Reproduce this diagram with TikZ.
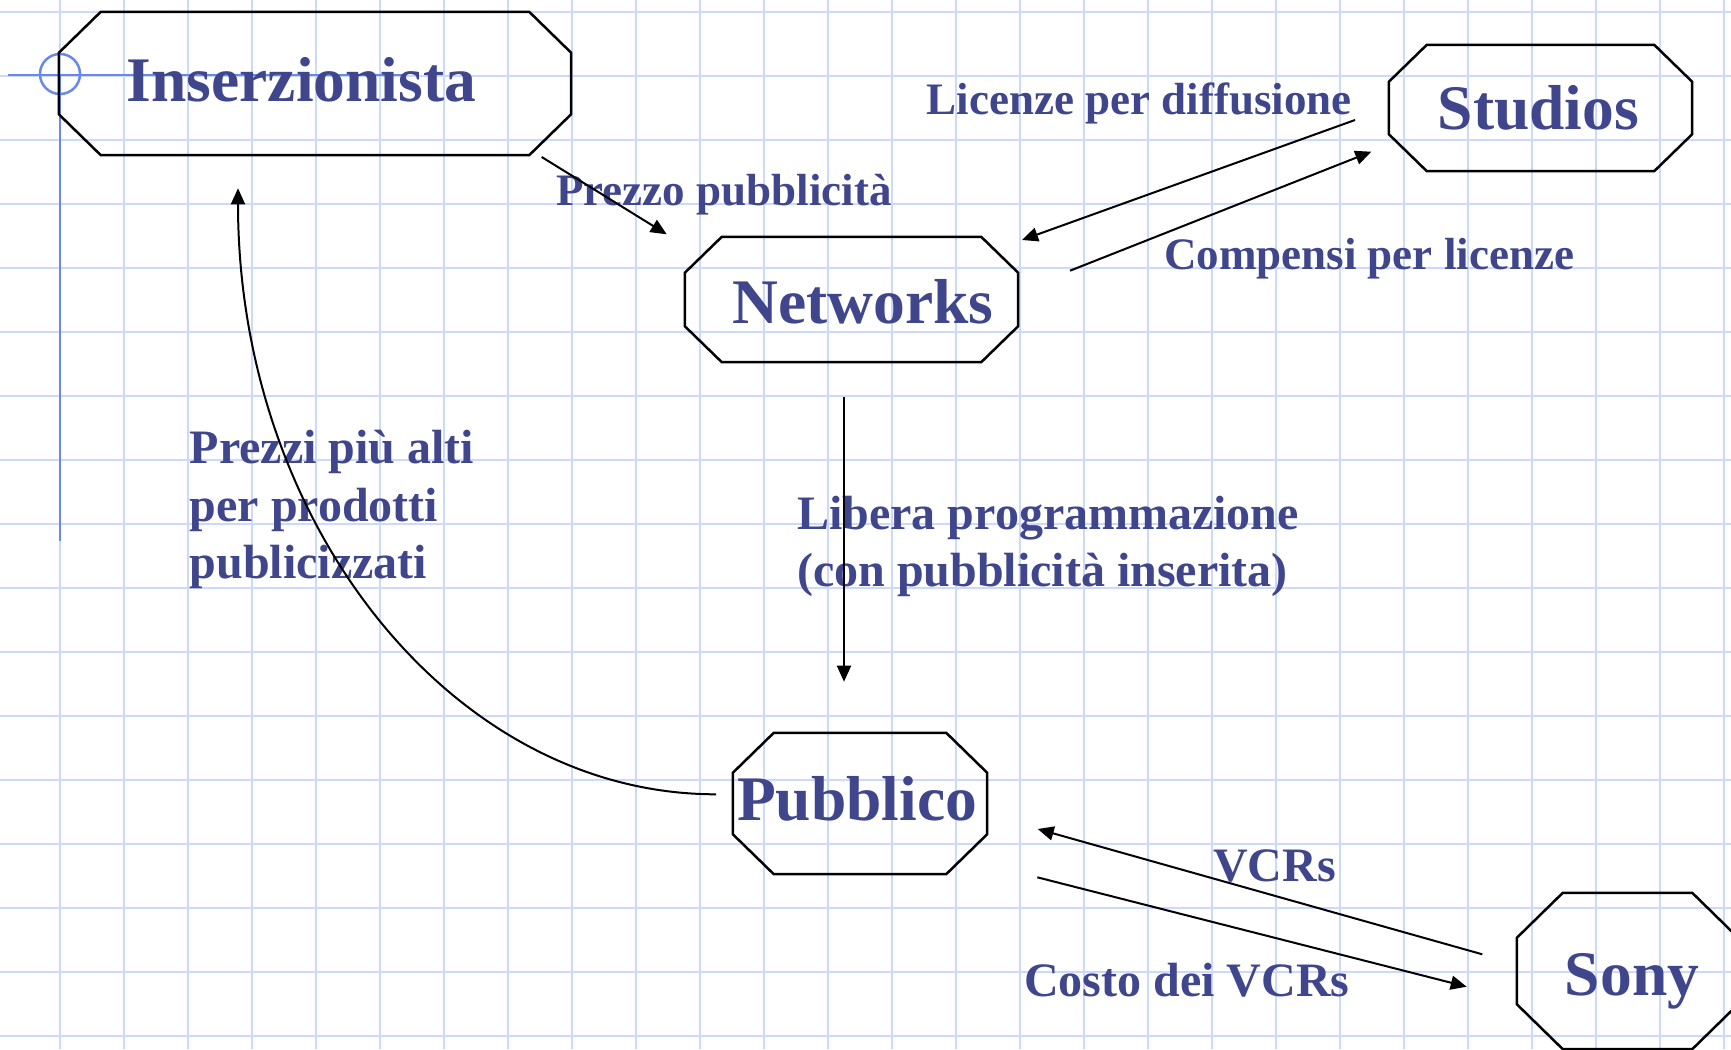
\documentclass[tikz,border=0pt]{standalone}
\usepackage{fontspec}
\setmainfont{Liberation Serif}
\usetikzlibrary{arrows.meta}
\definecolor{txtblue}{RGB}{64,70,140}
\definecolor{gridblue}{RGB}{204,216,252}
\definecolor{decoblue}{RGB}{104,136,240}
\newcommand{\octbox}[3]{%
  \draw[boxline] ([xshift=#2]#1.north west) -- ([xshift=-#2]#1.north east)
    -- ([yshift=-#3]#1.north east) -- ([yshift=#3]#1.south east)
    -- ([xshift=-#2]#1.south east) -- ([xshift=#2]#1.south west)
    -- ([yshift=#3]#1.south west) -- ([yshift=-#3]#1.north west) -- cycle;}
\begin{document}
\begin{tikzpicture}[x=1pt,y=-1pt,
  gridline/.style={draw=gridblue,line width=2pt},
  deco/.style={draw=decoblue,line width=2.5pt},
  boxline/.style={draw=black,line width=2.5pt,line join=miter},
  boxnode/.style 2 args={rectangle,inner sep=0pt,draw=none,minimum width=#1,minimum height=#2},
  nodelabel/.style={text=txtblue,font=\fontsize{63.5}{76}\selectfont\bfseries,inner sep=0pt,anchor=base},
  edgelabel/.style={text=txtblue,font=\fontsize{45}{54}\selectfont\bfseries,inner sep=0pt,anchor=base west},
  biglabel/.style={text=txtblue,font=\fontsize{48}{57.5}\selectfont\bfseries,inner sep=0pt,anchor=base west},
  conn/.style={draw=black,line width=2pt,-{Triangle[length=16pt,width=14pt]}}]
\useasboundingbox (0,0) rectangle (1731,1049);
\clip (0,0) rectangle (1731,1049);
\fill[white] (0,0) rectangle (1731,1049);
% grid
\foreach \i in {0,...,26} \draw[gridline] ({60+64*\i},0) -- ({60+64*\i},1049);
\foreach \j in {0,...,16} \draw[gridline] (0,{12+64*\j}) -- (1731,{12+64*\j});
% template decoration
\draw[deco] (8,75) -- (403,75);
\draw[deco] (60,75) -- (60,541);
\draw[deco] (60,74) circle[radius=20];
% boxes
\node[boxnode={512pt}{143pt}] (ins) at (315,83.5) {};
\node[boxnode={333pt}{125pt}] (net) at (851.5,299.5) {};
\node[boxnode={303pt}{126pt}] (stu) at (1540.5,108) {};
\node[boxnode={254pt}{141pt}] (pub) at (860,803.5) {};
\node[boxnode={221pt}{156pt}] (sony) at (1627.5,971) {};
\octbox{ins}{42pt}{41pt}
\octbox{net}{37pt}{36pt}
\octbox{stu}{38pt}{37pt}
\octbox{pub}{41pt}{40pt}
\octbox{sony}{46pt}{45pt}
% box texts
\node[nodelabel] (tins) at (301.5,101) {Inserzionista};
\node[nodelabel] (tnet) at (863,323) {Networks};
\node[nodelabel] (tstu) at (1538.5,129.5) {Studios};
\node[nodelabel] (tpub) at (857,820.5) {Pubblico};
\node[nodelabel] (tsony) at (1632,995) {Sony};
% connector labels
\node[edgelabel] (l1) at (556,205) {Prezzo pubblicità};
\node[edgelabel] (l2) at (926.5,114) {Licenze per diffusione};
\node[edgelabel] (l3) at (1164,269.5) {Compensi per licenze};
\node[biglabel] (l4) at (797,529) {\begin{tabular}[t]{@{}l@{}}Libera programmazione\\(con pubblicità inserita)\end{tabular}};
\node[biglabel] (l5) at (189.5,463.5) {\begin{tabular}[t]{@{}l@{}}Prezzi più alti\\per prodotti\\publicizzati\end{tabular}};
\node[biglabel] (l6) at (1213,881.5) {VCRs};
\node[biglabel] (l7) at (1024,996) {Costo dei VCRs};
% connector ends
\coordinate (a1s) at (541.7,157);
\coordinate (a1e) at (666.7,234.3);
\coordinate (a2s) at (1355,120);
\coordinate (a2e) at (1022,240);
\coordinate (a3s) at (1070,270.7);
\coordinate (a3e) at (1371.3,151.7);
\coordinate (a4s) at (844,397);
\coordinate (a4e) at (844,681.7);
\coordinate (a5s) at (716,794.3);
\coordinate (a5e) at (238,188.3);
\coordinate (a6s) at (1482.3,954.3);
\coordinate (a6e) at (1037.7,829);
\coordinate (a7s) at (1037.3,877.3);
\coordinate (a7e) at (1466.7,986.7);
% connectors
\draw[conn] (a1s) -- (a1e);
\draw[conn] (a2s) -- (a2e);
\draw[conn] (a3s) -- (a3e);
\draw[conn] (a4s) -- (a4e);
\draw[conn] (a5s) .. controls +(-264,0) and +(0,335) .. (a5e);
\draw[conn] (a6s) -- (a6e);
\draw[conn] (a7s) -- (a7e);
\end{tikzpicture}
\end{document}
